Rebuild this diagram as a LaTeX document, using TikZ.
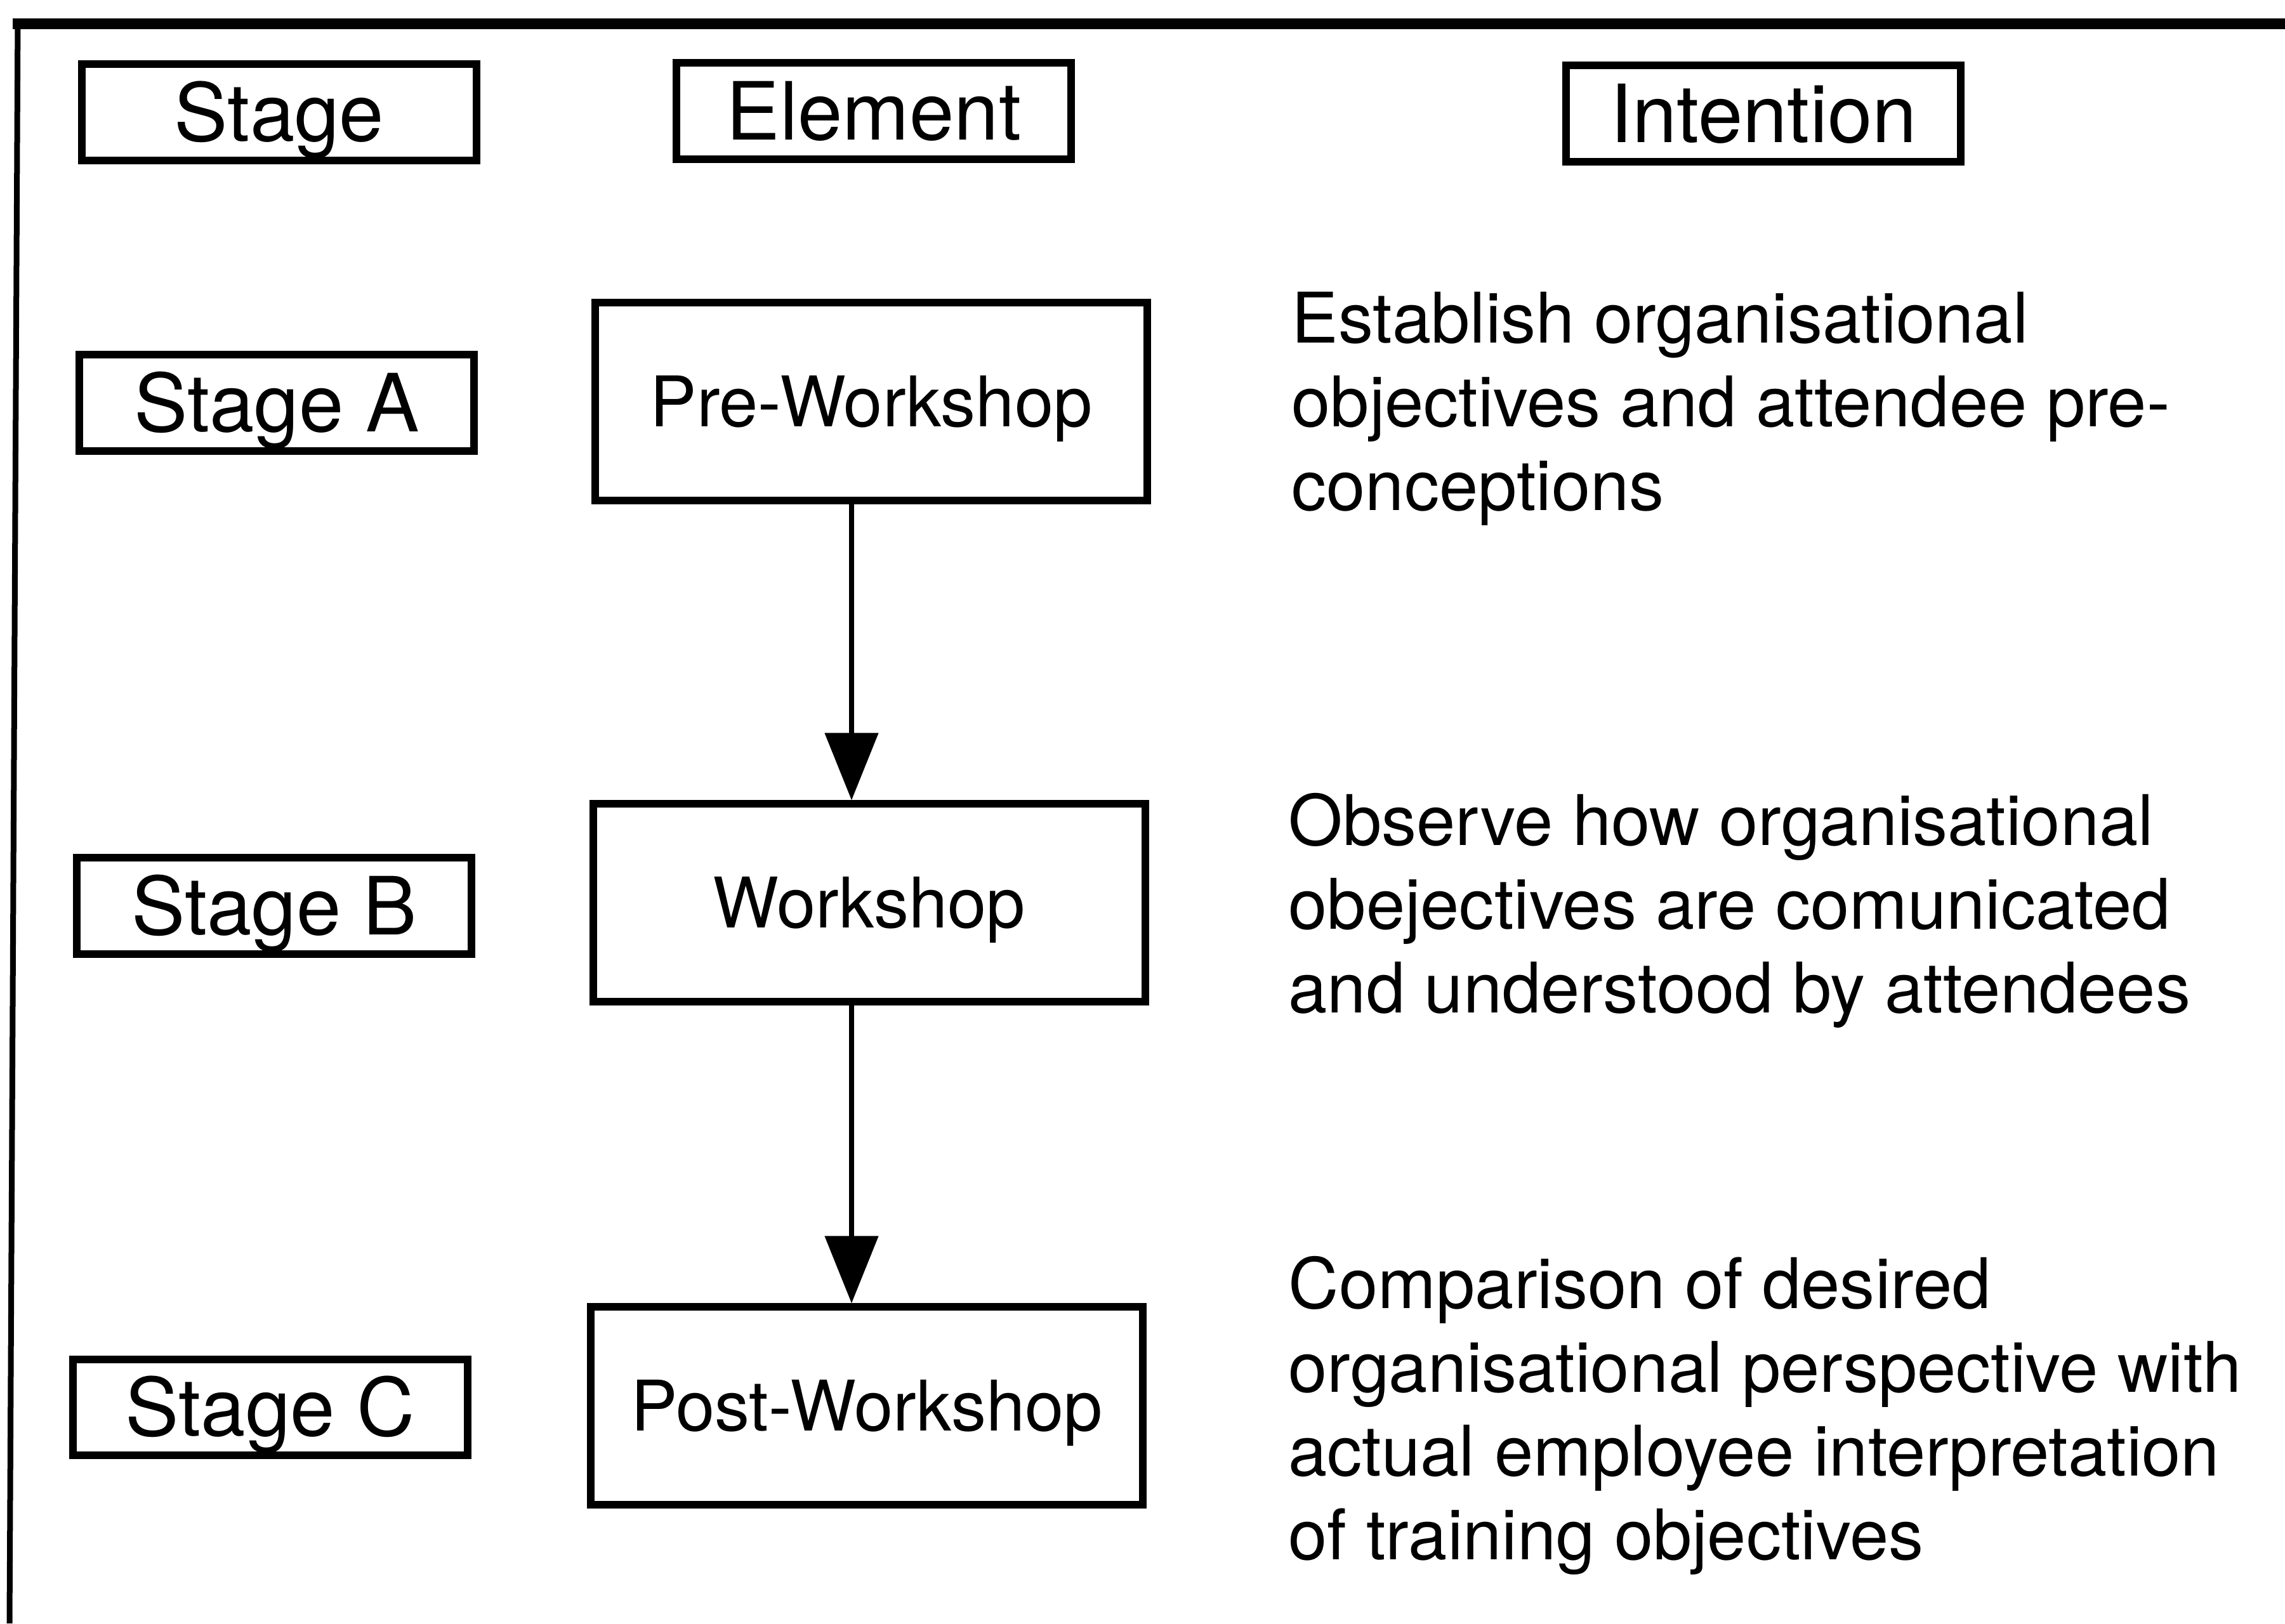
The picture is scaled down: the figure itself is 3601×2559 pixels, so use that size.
\documentclass[tikz,border=0pt]{standalone}
\usepackage{fontspec}
\setmainfont{TeX Gyre Heros}
\usetikzlibrary{arrows.meta}
\begin{document}
\begin{tikzpicture}[x=0.01cm, y=-0.01cm,
  boxline/.style={draw, line width=0.12cm},
  hdr/.style={boxline, minimum width=6.22cm, minimum height=1.51cm, inner sep=0pt,
    font=\fontsize{36pt}{43pt}\selectfont, text height=25.9pt, text depth=0pt},
  element/.style={boxline, minimum width=8.70cm, minimum height=3.11cm, inner sep=0pt,
    font=\fontsize{31.3pt}{37.5pt}\selectfont, text height=22.5pt, text depth=0pt},
  % multi-line text is placed by the baseline of its last line
  intent/.style={align=left, anchor=base west, inner sep=0pt,
    font=\fontsize{31.3pt}{37.5pt}\selectfont},
  flow/.style={line width=0.08cm, -{Triangle[length=1.06cm, width=0.83cm]}}
]
\useasboundingbox (0,0) rectangle (3601,2559);

% outer frame (top and left edges only)
\draw[line width=0.17cm] (20,37) -- (3601,37);
\draw[line width=0.09cm] (28,30) -- (15,2559);

% column headers
\node[hdr] (hstage) at (440,177) {Stage};
\node[hdr] (helem) at (1377,175) {Element};
\node[hdr] (hint) at (2779,179) {Intention};

% stage labels
\node[hdr] (sa) at (436,635) {Stage A};
\node[hdr] (sb) at (432,1428) {Stage B};
\node[hdr] (sc) at (426,2218) {Stage C};

% workshop elements
\node[element] (pre) at (1373,633) {Pre-Workshop};
\node[element] (work) at (1370,1423) {Workshop};
\node[element] (post) at (1366,2216) {Post-Workshop};

% intentions
\node[intent] (ia) at (2035,804) {Establish organisational\\objectives and attendee pre-\\conceptions};
\node[intent] (ib) at (2030,1596) {Observe how organisational\\obejectives are comunicated\\and understood by attendees};
\node[intent] (ic) at (2030,2458) {Comparison of desired\\organisational perspective with\\actual employee interpretation\\of training objectives};

% flow arrows
\coordinate (ax) at (1342,0);
\draw[flow] (pre.south -| ax) -- (work.north -| ax);
\draw[flow] (work.south -| ax) -- (post.north -| ax);
\end{tikzpicture}
\end{document}
